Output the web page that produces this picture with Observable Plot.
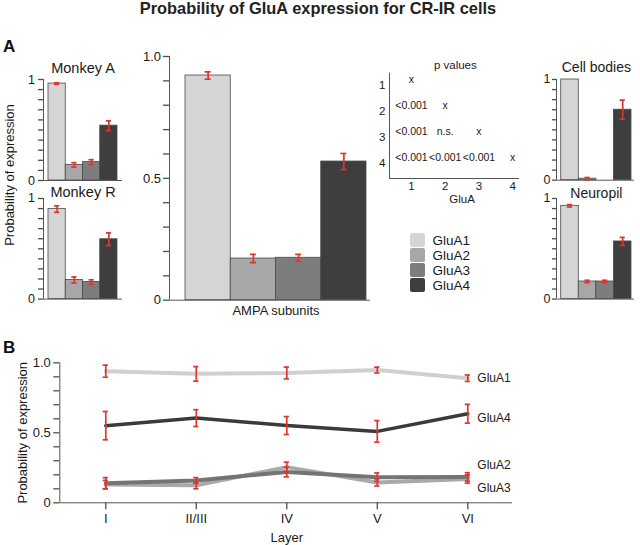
<!DOCTYPE html>
<html>
<head>
<meta charset="utf-8">
<script src="https://cdn.jsdelivr.net/npm/d3@7"></script>
<script src="https://cdn.jsdelivr.net/npm/@observablehq/plot@0.6"></script>
<style>
  html, body { margin: 0; padding: 0; background: #fff; }
  #root { position: relative; width: 640px; height: 545px; overflow: hidden;
          font-family: "Liberation Sans", Arial, Helvetica, sans-serif; color: #1a1a1a; }
  .abs { position: absolute; white-space: nowrap; }
</style>
</head>
<body>
<div id="root"></div>
<script>
// ---------------- DATA ----------------
const subunits = ["GluA1", "GluA2", "GluA3", "GluA4"];
const subunitColors = ["#d5d5d5", "#a7a7a7", "#7d7d7d", "#3e3e3e"];
const lineColors = ["#d0d0d0", "#a9a9a9", "#747474", "#3a3a3a"];

const allValues = [0.922, 0.171, 0.174, 0.569];
const allErrors = [0.015, 0.017, 0.014, 0.033];
const monkeyAValues = [0.96, 0.155, 0.182, 0.543];
const monkeyAErrors = [0.008, 0.022, 0.024, 0.048];
const monkeyRValues = [0.895, 0.19, 0.17, 0.595];
const monkeyRErrors = [0.032, 0.03, 0.022, 0.063];
const cellBodyValues = [1.0, 0.015, 0, 0.70];
const cellBodyErrors = [0, 0.012, 0, 0.095];
const neuropilValues = [0.927, 0.175, 0.175, 0.573];
const neuropilErrors = [0.012, 0.012, 0.012, 0.04];

const pMatrix = [
  ["x"],
  ["<0.001", "x"],
  ["<0.001", "n.s.", "x"],
  ["<0.001", "<0.001", "<0.001", "x"]
];
const pAxisTicks = [1, 2, 3, 4];

const layers = ["I", "II/III", "IV", "V", "VI"];
const gluA1Layer = [0.94, 0.921, 0.927, 0.948, 0.89];
const gluA2Layer = [0.13, 0.125, 0.255, 0.145, 0.17];
const gluA3Layer = [0.14, 0.16, 0.22, 0.183, 0.185];
const gluA4Layer = [0.551, 0.605, 0.552, 0.51, 0.636];
const gluA1LayerErr = [0.043, 0.052, 0.042, 0.021, 0.023];
const gluA2LayerErr = [0.03, 0.025, 0.035, 0.025, 0.03];
const gluA3LayerErr = [0.04, 0.02, 0.035, 0.03, 0.03];
const gluA4LayerErr = [0.101, 0.06, 0.064, 0.077, 0.067];
const seriesLabelY = [0.89, 0.27, 0.107, 0.607];

const tick01Values = d3.range(11).map(k => k / 10);
const smallTickValues = [0, 1];
const smallTickLabels = ["0", "1"];
const bigTickValues = [0, 0.5, 1];
const bigTickLabels = ["0", "0.5", "1.0"];

// ---------------- HELPERS ----------------
const RED = "#e0352b";
const AXIS = "#555";
const TICK = "#4d4d4d";
const FONT = '"Liberation Sans", Arial, Helvetica, sans-serif';
const root = document.getElementById("root");

function place(el, left, top) {
  el.style.position = "absolute";
  el.style.left = left + "px";
  el.style.top = top + "px";
  root.appendChild(el);
}
function htmlText(txt, left, top, css) {
  const d = document.createElement("div");
  d.className = "abs";
  d.textContent = txt;
  d.style.left = left + "px";
  d.style.top = top + "px";
  Object.assign(d.style, css || {});
  root.appendChild(d);
  return d;
}
function labelFor(vals, labs) {
  return d => { const k = vals.findIndex(v => Math.abs(v - d) < 1e-9); return k >= 0 ? labs[k] : ""; };
}

function barPanel(cfg) {
  const table = subunits.map((name, i) => ({ name, i, v: cfg.values[i], e: cfg.errors[i] }));
  const errs = table.filter(d => d.e > 0);
  const barW = (cfg.barEndPx - cfg.barStartPx) / 4;
  const x0 = -(cfg.barStartPx - cfg.axisPx) / barW;
  const x1 = 4 + (cfg.baseEndPx - cfg.barEndPx) / barW;
  const tickLen = cfg.tickSize / barW;
  const xStart = x0 - tickLen;
  const frameLeftPx = cfg.axisPx - cfg.tickSize;
  const left = cfg.axisPx - 40, top = cfg.y1Px - 30;
  const width = cfg.baseEndPx + 6 - left, height = cfg.y0Px + 25 - top;
  const cap = cfg.capPx / barW;
  const ticks = tick01Values.map(v => ({ v, a: xStart, b: x0 }));
  const marks = [
    Plot.rect(table, { x1: "i", x2: d => d.i + 1, y1: 0, y2: "v", fill: "name", stroke: "#4a4a4a", strokeWidth: 0.8 }),
    Plot.ruleX([x0], { y1: 0, y2: 1, stroke: AXIS, strokeWidth: 1 }),
    Plot.ruleY([0], { x1: x0, x2: x1, stroke: AXIS, strokeWidth: 1 }),
    Plot.ruleY(ticks, { y: "v", x1: "a", x2: "b", stroke: TICK, strokeWidth: 1.3 }),
    Plot.ruleX(errs, { x: d => d.i + 0.5, y1: d => d.v - d.e, y2: d => d.v + d.e, stroke: RED, strokeWidth: 1.7 }),
    Plot.ruleY(errs, { y: d => d.v + d.e, x1: d => d.i + 0.5 - cap, x2: d => d.i + 0.5 + cap, stroke: RED, strokeWidth: 1.7 }),
    Plot.ruleY(errs, { y: d => d.v - d.e, x1: d => d.i + 0.5 - cap, x2: d => d.i + 0.5 + cap, stroke: RED, strokeWidth: 1.7 }),
    Plot.axisY(cfg.tickValues, { tickSize: 0, tickPadding: cfg.tickPadding, fontSize: cfg.tickFont,
      tickFormat: labelFor(cfg.tickValues, cfg.tickLabels), fill: "#1a1a1a", label: null })
  ];
  if (cfg.title) marks.push(Plot.text([cfg.title], { x: 2, frameAnchor: "top", lineAnchor: "middle", dy: cfg.titleDy, fontSize: cfg.titleSize, fill: "#1a1a1a" }));
  if (cfg.xLabel) marks.push(Plot.text([cfg.xLabel], { x: 2, frameAnchor: "bottom", lineAnchor: "middle", dy: cfg.xLabelDy, fontSize: cfg.xLabelSize, fill: "#1a1a1a" }));
  const svg = Plot.plot({
    width, height,
    marginLeft: frameLeftPx - left,
    marginRight: width - (cfg.baseEndPx - left),
    marginTop: cfg.y1Px - top,
    marginBottom: height - (cfg.y0Px - top),
    x: { domain: [xStart, x1], axis: null, label: null },
    y: { domain: [0, 1], label: null },
    color: { domain: subunits, range: subunitColors },
    style: { fontFamily: FONT, background: "transparent", overflow: "visible", color: "#1a1a1a" },
    marks
  });
  place(svg, left, top);
}

// ---------------- TEXT ----------------
htmlText("Probability of GluA expression for CR-IR cells", -2, -1.5,
  { width: "640px", textAlign: "center", fontWeight: "bold", fontSize: "16.4px", color: "#222" });
htmlText("A", 3, 37, { fontWeight: "bold", fontSize: "17px", color: "#111" });
htmlText("B", 3, 338, { fontWeight: "bold", fontSize: "17px", color: "#111" });
htmlText("Probability of expression", 9, 175,
  { fontSize: "13px", transform: "translate(-50%,-50%) rotate(-90deg)", color: "#1a1a1a" });

// ---------------- PANEL A BAR CHARTS ----------------
barPanel({ values: monkeyAValues, errors: monkeyAErrors, axisPx: 43, barStartPx: 48, barEndPx: 117, baseEndPx: 122,
  y1Px: 79, y0Px: 180, capPx: 2.6, tickSize: 5, tickPadding: 3.5, tickFont: 12.5,
  tickValues: smallTickValues, tickLabels: smallTickLabels, title: "Monkey A", titleDy: -11.5, titleSize: 14.5 });
barPanel({ values: monkeyRValues, errors: monkeyRErrors, axisPx: 43, barStartPx: 48, barEndPx: 117, baseEndPx: 122,
  y1Px: 197.7, y0Px: 298.3, capPx: 2.6, tickSize: 5, tickPadding: 3.5, tickFont: 12.5,
  tickValues: smallTickValues, tickLabels: smallTickLabels, title: "Monkey R", titleDy: -6.5, titleSize: 14.5 });
barPanel({ values: allValues, errors: allErrors, axisPx: 169, barStartPx: 185, barEndPx: 366, baseEndPx: 370,
  y1Px: 56, y0Px: 299.7, capPx: 3, tickSize: 6, tickPadding: 2.5, tickFont: 13,
  tickValues: bigTickValues, tickLabels: bigTickLabels, xLabel: "AMPA subunits", xLabelDy: 11, xLabelSize: 13 });
barPanel({ values: cellBodyValues, errors: cellBodyErrors, axisPx: 556, barStartPx: 560.7, barEndPx: 631, baseEndPx: 634,
  y1Px: 78.6, y0Px: 179.3, capPx: 2.6, tickSize: 4, tickPadding: 2, tickFont: 12.5,
  tickValues: smallTickValues, tickLabels: smallTickLabels, title: "Cell bodies", titleDy: -11.5, titleSize: 14 });
barPanel({ values: neuropilValues, errors: neuropilErrors, axisPx: 556, barStartPx: 560.7, barEndPx: 631, baseEndPx: 634,
  y1Px: 197.7, y0Px: 298.3, capPx: 2.6, tickSize: 4, tickPadding: 2, tickFont: 12.5,
  tickValues: smallTickValues, tickLabels: smallTickLabels, title: "Neuropil", titleDy: -4.5, titleSize: 14 });

// ---------------- P VALUES ----------------
{
  const pCells = pMatrix.flatMap((row, r) => row.map((t, c) => ({ row: r + 1, col: c + 1, text: t })));
  const xd = [0.35, 4.2], yd = [0.76, 4.8];
  const svg = Plot.plot({
    width: 160, height: 150, marginLeft: 19, marginRight: 11, marginTop: 17.7, marginBottom: 27,
    x: { domain: xd, label: null },
    y: { domain: yd, reverse: true, label: null },
    style: { fontFamily: FONT, background: "transparent", overflow: "visible", color: "#1a1a1a" },
    marks: [
      Plot.ruleX([xd[0]], { y1: yd[0], y2: yd[1], stroke: "#555" }),
      Plot.ruleY([yd[1]], { x1: xd[0], x2: xd[1], stroke: "#555" }),
      Plot.text(pCells, { x: "col", y: "row", text: "text", fontSize: 10.5, fill: "#1a1a1a" }),
      Plot.axisX(pAxisTicks, { tickSize: 0, tickPadding: 3, fontSize: 11.5, label: null, fill: "#1a1a1a" }),
      Plot.axisY(pAxisTicks, { tickSize: 0, tickPadding: 4, fontSize: 11.5, dy: 6, label: null, fill: "#1a1a1a" }),
      Plot.text(["p values"], { x: 2.3, frameAnchor: "top", lineAnchor: "middle", dy: -8, fontSize: 11.5, fill: "#1a1a1a" }),
      Plot.text(["GluA"], { x: 2.5, frameAnchor: "bottom", lineAnchor: "middle", dy: 21, fontSize: 11.5, fill: "#1a1a1a" })
    ]
  });
  place(svg, 370, 55);
}

// ---------------- LEGEND ----------------
{
  const svg = Plot.plot({
    width: 90, height: 66, margin: 0,
    x: { domain: [0, 1], range: [5, 20], axis: null, label: null },
    y: { type: "band", domain: subunits, range: [2.5, 62.5], paddingInner: 0.1, paddingOuter: 0.05, axis: null, label: null },
    color: { domain: subunits, range: subunitColors },
    style: { fontFamily: FONT, background: "transparent", overflow: "visible", color: "#1a1a1a" },
    marks: [
      Plot.barX(subunits, { x1: 0, x2: 1, y: d => d, fill: d => d, rx: 2 }),
      Plot.text(subunits, { x: 1, y: d => d, dx: 7, textAnchor: "start", fontSize: 13.5, fill: "#1a1a1a" })
    ]
  });
  place(svg, 405, 230);
}

// ---------------- PANEL B ----------------
{
  const layerValues = [gluA1Layer, gluA2Layer, gluA3Layer, gluA4Layer];
  const layerErrors = [gluA1LayerErr, gluA2LayerErr, gluA3LayerErr, gluA4LayerErr];
  const widths = [4, 4, 4, 3.5];
  const table = subunits.flatMap((s, k) => layers.map((L, i) => ({ series: s, k, i, v: layerValues[k][i], e: layerErrors[k][i] })));
  const axisPx = 59.3, rightPx = 512, y1Px = 362.3, y0Px = 502.3, yTickPx = 6, xTickPx = 7;
  const xd = [-0.508, 4.494];
  const pxPerUnit = (rightPx - axisPx) / (xd[1] - xd[0]);
  const pxPerY = y0Px - y1Px;
  const cap = 2.6 / pxPerUnit;
  const xStart = xd[0] - yTickPx / pxPerUnit;
  const yStart = -xTickPx / pxPerY;
  const yTicks = tick01Values.map(v => ({ v, a: xStart, b: xd[0] }));
  const xTicks = layers.map((L, i) => ({ i, a: yStart, b: 0 }));
  const marks = [
    Plot.ruleX([xd[0]], { y1: 0, y2: 1, stroke: AXIS }),
    Plot.ruleY([0], { x1: xd[0], x2: xd[1], stroke: AXIS }),
    Plot.ruleY(yTicks, { y: "v", x1: "a", x2: "b", stroke: TICK, strokeWidth: 1.3 }),
    Plot.ruleX(xTicks, { x: "i", y1: "a", y2: "b", stroke: TICK, strokeWidth: 1.3 }),
    ...subunits.map((s, k) => Plot.line(table.filter(d => d.k === k), { x: "i", y: "v", stroke: lineColors[k], strokeWidth: widths[k] })),
    Plot.ruleX(table, { x: "i", y1: d => d.v - d.e, y2: d => d.v + d.e, stroke: RED, strokeWidth: 1.7 }),
    Plot.ruleY(table, { y: d => d.v + d.e, x1: d => d.i - cap, x2: d => d.i + cap, stroke: RED, strokeWidth: 1.7 }),
    Plot.ruleY(table, { y: d => d.v - d.e, x1: d => d.i - cap, x2: d => d.i + cap, stroke: RED, strokeWidth: 1.7 }),
    Plot.text(subunits, { x: layers.length - 1, y: (d, k) => seriesLabelY[k], dx: 9.5, textAnchor: "start", fontSize: 12, fill: "#1a1a1a" }),
    Plot.axisY(bigTickValues, { tickSize: 0, tickPadding: 3, fontSize: 13, tickFormat: labelFor(bigTickValues, bigTickLabels),
      fill: "#1a1a1a", label: null }),
    Plot.axisX(layers.map((L, i) => i), { tickSize: 0, tickPadding: 4, fontSize: 13, tickFormat: i => layers[i],
      fill: "#1a1a1a", label: null }),
    Plot.text(["Probability of expression"], { x: xStart, y: 0.5, textAnchor: "middle", lineAnchor: "middle", rotate: -90, dx: -31, fontSize: 13, fill: "#1a1a1a" }),
    Plot.text(["Layer"], { x: 2, frameAnchor: "bottom", lineAnchor: "middle", dy: 28, fontSize: 13, fill: "#1a1a1a" })
  ];
  const svg = Plot.plot({
    width: 640, height: 205, marginLeft: axisPx - yTickPx, marginRight: 640 - rightPx,
    marginTop: y1Px - 340, marginBottom: 545 - y0Px - xTickPx,
    x: { domain: [xStart, xd[1]], label: null },
    y: { domain: [yStart, 1], label: null },
    style: { fontFamily: FONT, background: "transparent", overflow: "visible", color: "#1a1a1a" },
    marks
  });
  place(svg, 0, 340);
}
</script>
</body>
</html>
